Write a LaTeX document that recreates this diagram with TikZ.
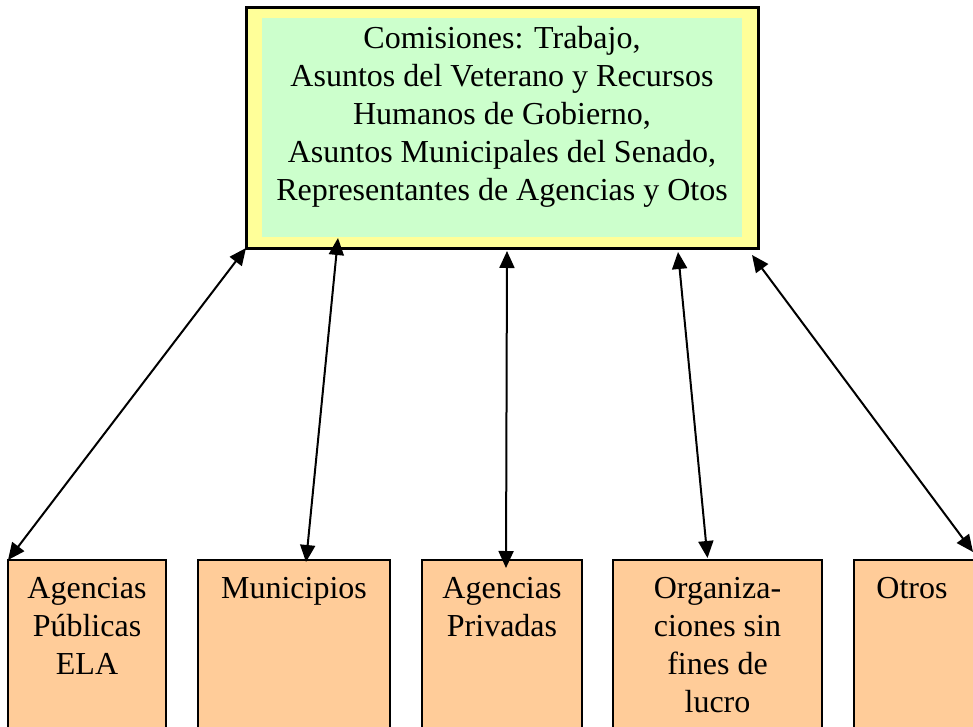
\documentclass[tikz,border=0pt]{standalone}
\usepackage{fontspec}
\setmainfont{Liberation Serif}
\usetikzlibrary{arrows.meta,positioning}
\definecolor{amarillo}{HTML}{FFFF99}
\definecolor{verdeclaro}{HTML}{CCFFCC}
\definecolor{naranja}{HTML}{FFCC99}
\tikzstyle{marco} = [rectangle, draw, line width=3pt, fill=amarillo,
    outer sep=0pt, minimum width=512pt, minimum height=240pt]
\tikzstyle{fondo} = [rectangle, fill=verdeclaro, minimum width=480pt, minimum height=219pt]
\tikzstyle{caja} = [rectangle, draw, line width=2pt, fill=naranja,
    outer sep=0pt, minimum height=200pt, anchor=north west]
\tikzstyle{txt} = [inner sep=0pt, align=center, font=\fontsize{32}{38}\selectfont]

\begin{document}
\begin{tikzpicture}[x=1pt,y=-1pt,<->,>={Triangle[length=17pt,width=15pt]},
                    line width=2pt]
  \useasboundingbox (0,0) rectangle (973,727);
  % comisiones
  \node[marco] (com)   at (502,128)   {};
  \node[fondo] (fondo) at (502,127.5) {};
  \node[txt, below=8pt of fondo.north] (comtxt)
    {Comisiones: Trabajo,\\Asuntos del Veterano y Recursos\\Humanos de Gobierno,\\
     Asuntos Municipales del Senado,\\Representantes de Agencias y Otos};

  % entidades
  \node[caja, minimum width=158pt] (ela)   at (8,560)   {};
  \node[caja, minimum width=192pt] (mun)   at (198,560) {};
  \node[caja, minimum width=160pt] (priv)  at (422,560) {};
  \node[caja, minimum width=209pt] (org)   at (613,560) {};
  \node[caja, minimum width=160pt] (otros) at (854,560) {};

  \node[txt, below=16pt of ela.north]   (elatxt)   {Agencias\\Públicas\\ELA};
  \node[txt, below=16pt of mun.north]   (muntxt)   {Municipios};
  \node[txt, below=16pt of priv.north]  (privtxt)  {Agencias\\Privadas};
  \node[txt, below=16pt of org.north]   (orgtxt)   {Organiza-\\ciones sin\\fines de\\lucro};
  \node[txt, below=16pt of otros.north west, xshift=58pt] (otrostxt) {Otros};

  \path (com.south west) edge (ela.north west)
        ([xshift=77pt]fondo.south west) edge ([xshift=108pt,yshift=-2pt]mun.north west)
        ([xshift=5pt,yshift=-3pt]com.south) edge ([xshift=4pt,yshift=-8pt]priv.north)
        ([xshift=-80pt,yshift=-4pt]com.south east) edge ([xshift=-10pt,yshift=2pt]org.north)
        ([xshift=-6pt,yshift=-7pt]com.south east) edge ([xshift=119pt,yshift=8pt]otros.north west);
\end{tikzpicture}
\end{document}
